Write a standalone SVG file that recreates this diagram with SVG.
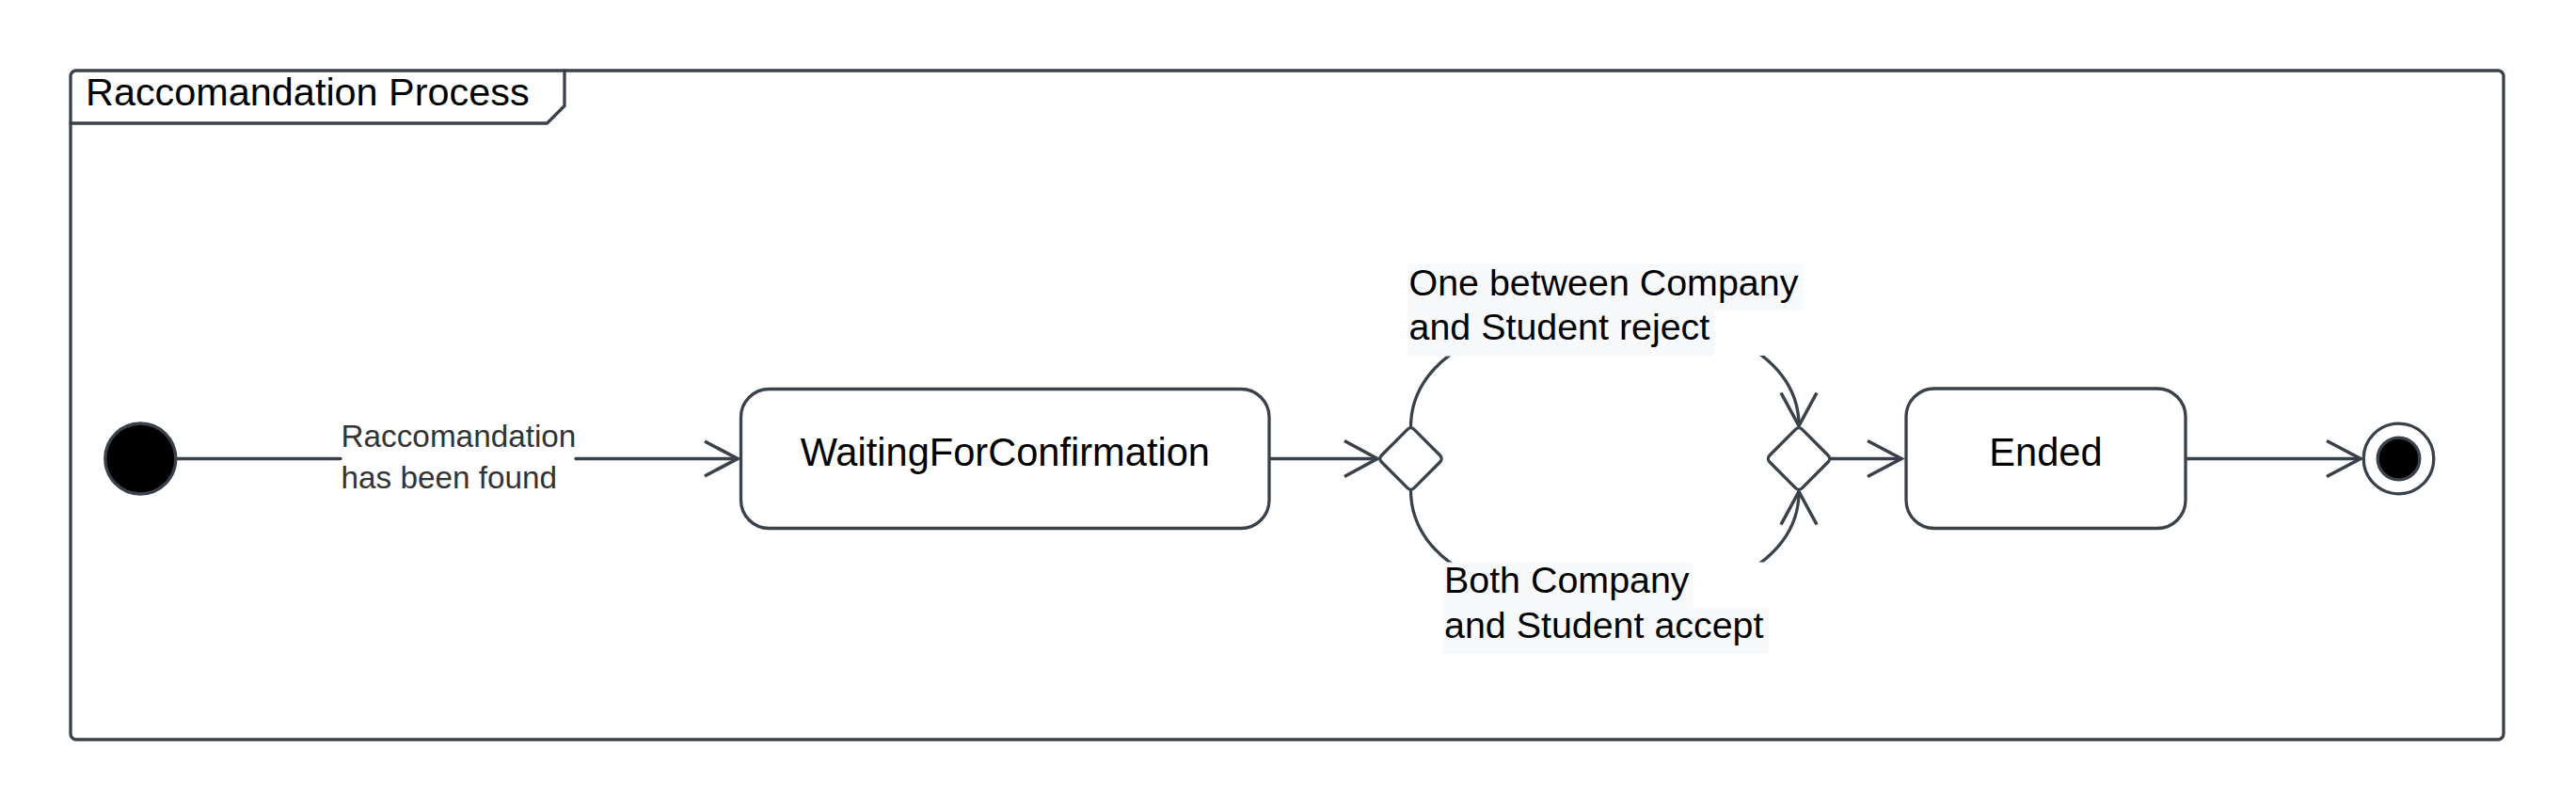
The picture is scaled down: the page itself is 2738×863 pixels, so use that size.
<svg xmlns="http://www.w3.org/2000/svg" width="2738" height="863" viewBox="0 0 2738 863">
<defs>
<style>
.ln{fill:none;stroke:#3a414a;stroke-width:3.3;stroke-linecap:round;stroke-linejoin:round}
.ah{fill:none;stroke:#3a414a;stroke-width:3.6;stroke-linecap:butt;stroke-linejoin:miter}
.box{fill:#ffffff;stroke:#3a414a;stroke-width:3.3}
.t{font-family:"Liberation Sans",Arial,sans-serif;fill:#000000}
.big{font-size:41.6px}
.ttl{font-size:41.4px}
.grd{font-size:39.4px}
.lbl{font-size:33.3px;fill:#333333}
.gbg{fill:#f8f9fb;stroke:none}
</style>
<clipPath id="clipTop"><rect x="0" y="378" width="2738" height="485"/></clipPath>
<clipPath id="clipBot"><rect x="0" y="0" width="2738" height="597.5"/></clipPath>
</defs>
<rect x="0" y="0" width="2738" height="863" fill="#ffffff"/>
<g id="frame">
<rect class="box" x="75" y="75" width="2586" height="711" rx="6"/>
<path class="ln" d="M75,131 H581.5 L600,112.5 V75"/>
<text class="t ttl" x="91" y="112">Raccomandation Process</text>
</g>
<g id="connectors">
<line class="ln" x1="187" y1="487.5" x2="362" y2="487.5"/>
<line class="ln" x1="612" y1="487.5" x2="783" y2="487.5"/>
<polyline class="ah" points="749,469 784,487.5 749,506"/>
<text class="t lbl" x="362.5" y="475">Raccomandation</text>
<text class="t lbl" x="362.5" y="519">has been found</text>
<line class="ln" x1="1350.5" y1="487.5" x2="1463" y2="487.5"/>
<polyline class="ah" points="1429,468.5 1464,487.5 1429,506.5"/>
<path class="ln" clip-path="url(#clipTop)" d="M1499.5,454 C1499.5,292 1912,292 1912,452"/>
<polyline class="ah" points="1893,417.5 1912,452.5 1931,417.5"/>
<path class="ln" clip-path="url(#clipBot)" d="M1499.5,521 C1499.5,683 1912,683 1912,523"/>
<polyline class="ah" points="1893,557.5 1912,522.5 1931,557.5"/>
<rect class="gbg" x="1496" y="280.5" width="421.5" height="49.5"/>
<rect class="gbg" x="1496" y="329.5" width="326" height="49"/>
<text class="t grd" x="1497.5" y="313.5">One between Company</text>
<text class="t grd" x="1497.5" y="361">and Student reject</text>
<rect class="gbg" x="1533.5" y="598" width="266" height="48.5"/>
<rect class="gbg" x="1533.5" y="646" width="346.5" height="49"/>
<text class="t grd" x="1535" y="629.5">Both Company</text>
<text class="t grd" x="1535" y="678">and Student accept</text>
<line class="ln" x1="1946.5" y1="487.5" x2="2020" y2="487.5"/>
<polyline class="ah" points="1985,468.5 2021,487.5 1985,506.5"/>
<line class="ln" x1="2324" y1="487.5" x2="2508" y2="487.5"/>
<polyline class="ah" points="2473,468.5 2509,487.5 2473,506.5"/>
</g>
<g id="initial">
<circle cx="149.3" cy="487.5" r="37.5" fill="#000000" stroke="#3a414a" stroke-width="3.3"/>
</g>
<g id="waiting">
<rect class="box" x="787.5" y="413.5" width="561.5" height="148" rx="30"/>
<text class="t big" x="1068.3" y="495" text-anchor="middle">WaitingForConfirmation</text>
</g>
<g id="decision1">
<rect class="box" x="-24.5" y="-24.5" width="49" height="49" rx="5" transform="translate(1499.5,487.5) rotate(45)"/>
</g>
<g id="decision2">
<rect class="box" x="-24.5" y="-24.5" width="49" height="49" rx="5" transform="translate(1912,487.5) rotate(45)"/>
</g>
<g id="ended">
<rect class="box" x="2026" y="413" width="297" height="148.5" rx="30"/>
<text class="t big" x="2174.5" y="495" text-anchor="middle">Ended</text>
</g>
<g id="final">
<circle cx="2549.5" cy="487.5" r="37.3" fill="#ffffff" stroke="#3a414a" stroke-width="3.3"/>
<circle cx="2549.5" cy="487.5" r="22.3" fill="#000000" stroke="#3a414a" stroke-width="3.3"/>
</g>
</svg>
